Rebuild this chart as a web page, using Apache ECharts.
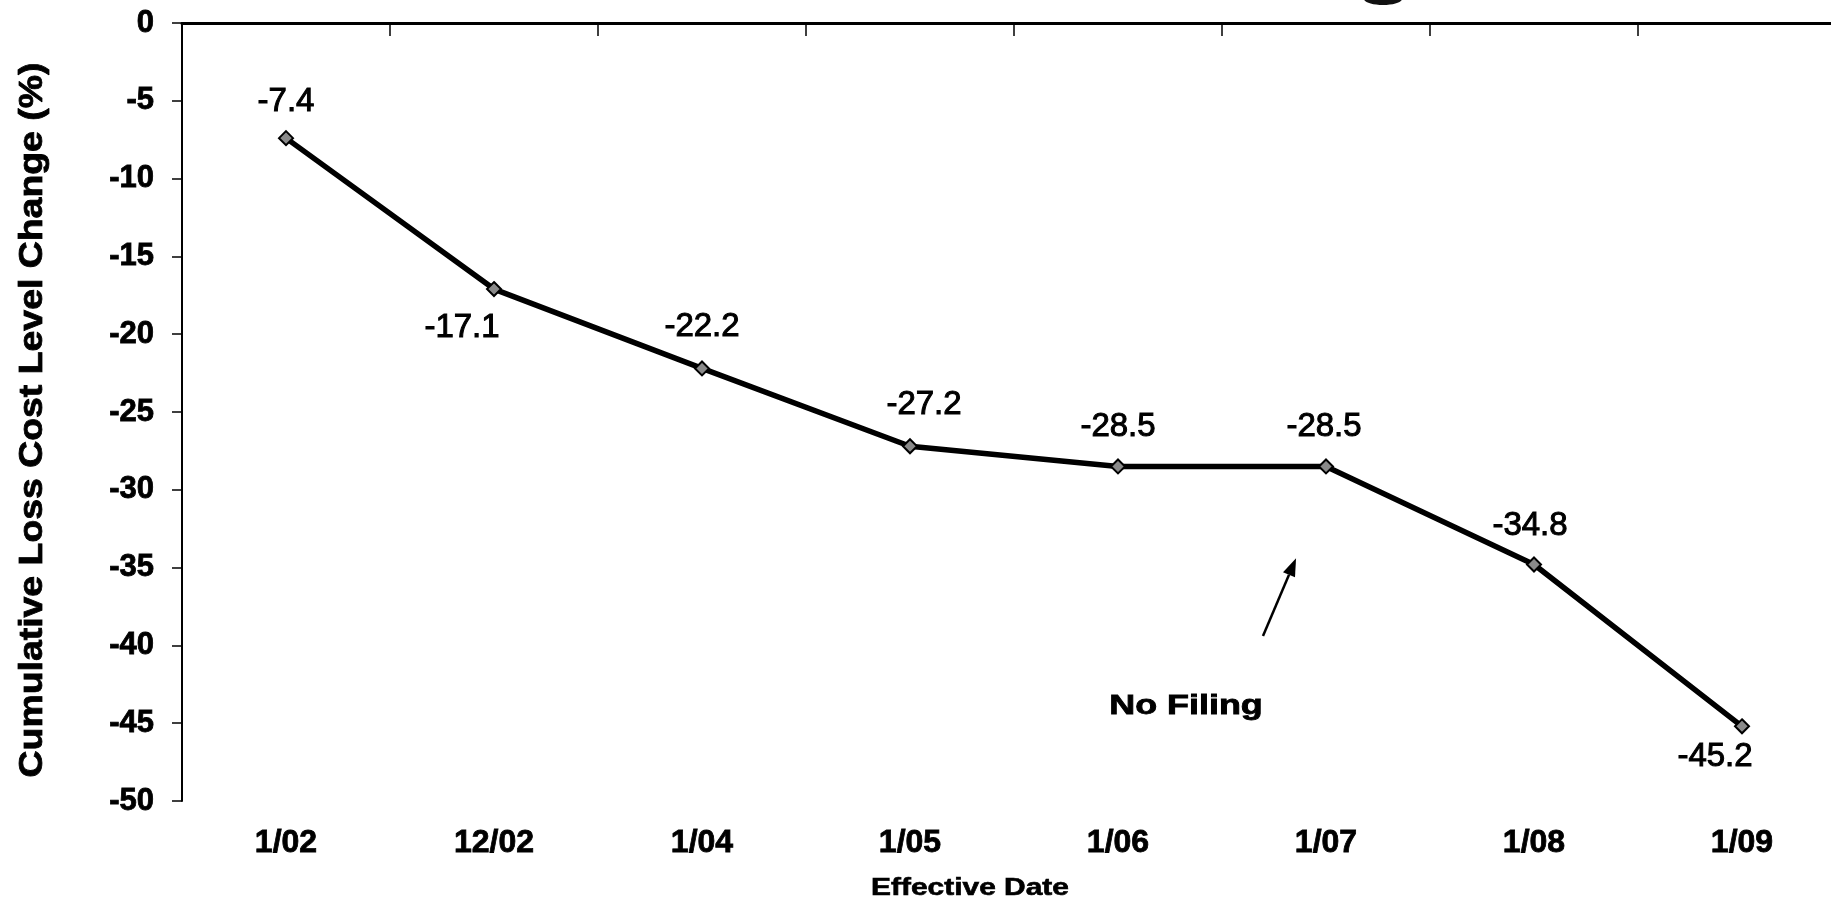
<!DOCTYPE html>
<html>
<head>
<meta charset="utf-8">
<title>Cumulative Loss Cost Level Change</title>
<script src="https://cdn.jsdelivr.net/npm/echarts@6/dist/echarts.min.js"></script>
<style>
  html, body { margin: 0; padding: 0; background: #fff; overflow: hidden; width: 1831px; height: 901px; }
  /* the plot runs slightly past the right edge of the page, so the canvas is wider than the view */
  #chart { width: 1860px; height: 901px; }
</style>
</head>
<body>
<div id="chart"></div>
<script>
// Effective dates of the loss cost filings
const categories = ['1/02', '12/02', '1/04', '1/05', '1/06', '1/07', '1/08', '1/09'];
// Cumulative loss cost level change, percent
const values = [-7.4, -17.1, -22.2, -27.2, -28.5, -28.5, -34.8, -45.2];
// Value axis range and step
const yMin = -50;
const yMax = 0;
const yStep = 5;

const FONT = '"Liberation Sans", Arial, sans-serif';

// Where each value label sits relative to its point (centre offset in px)
const labelOffsets = [[0, -36], [-32, 39], [0, -42], [14, -41], [0, -40], [-2, -40], [-4, -39], [-27, 31]];

const chart = echarts.init(document.getElementById('chart'), null, { renderer: 'canvas' });

const seriesData = values.map((v, i) => ({
  value: v,
  label: { offset: labelOffsets[i] }
}));

chart.setOption({
  animation: false,
  backgroundColor: '#fff',
  grid: { left: 182, top: 23, width: 1664, height: 778, containLabel: false },
  xAxis: [
    {
      type: 'category',
      data: categories,
      position: 'top',
      boundaryGap: true,
      axisLine: { onZero: false, lineStyle: { color: '#000', width: 3 } },
      axisTick: { show: true, inside: true, length: 13, lineStyle: { color: '#000', width: 1.5 } },
      axisLabel: { show: false },
      splitLine: { show: false },
      z: 3
    },
    {
      type: 'category',
      data: categories,
      position: 'bottom',
      boundaryGap: true,
      axisLine: { show: false, onZero: false },
      axisTick: { show: false },
      axisLabel: {
        color: '#000', fontFamily: FONT, fontSize: 32, fontWeight: 'bold',
        margin: 26, lineHeight: 32, textBorderColor: '#000', textBorderWidth: 0.8
      },
      splitLine: { show: false }
    }
  ],
  yAxis: {
    type: 'value',
    min: yMin,
    max: yMax,
    interval: yStep,
    axisLine: { show: true, onZero: false, lineStyle: { color: '#000', width: 2 } },
    axisTick: { show: true, length: 10, lineStyle: { color: '#000', width: 1.5 } },
    axisLabel: {
      color: '#000', fontFamily: FONT, fontSize: 31, fontWeight: 'bold', margin: 28,
      textBorderColor: '#000', textBorderWidth: 0.8
    },
    splitLine: { show: false }
  },
  series: [{
    type: 'line',
    xAxisIndex: 0,
    yAxisIndex: 0,
    data: seriesData,
    symbol: 'diamond',
    symbolSize: 14,
    showAllSymbol: true,
    lineStyle: { color: '#000', width: 5.5 },
    itemStyle: { color: '#8a8a8a', borderColor: '#000', borderWidth: 2 },
    label: {
      show: true,
      position: 'inside',
      align: 'center',
      verticalAlign: 'middle',
      color: '#000',
      fontFamily: FONT,
      fontSize: 33,
      fontWeight: 'normal',
      textBorderColor: '#000',
      textBorderWidth: 1,
      formatter: p => p.value.toFixed(1)
    },
    z: 4
  }]
});

// Pixel position of a fractional category position at a given value
function toPixel(pos, v) {
  const i = Math.min(Math.floor(pos), categories.length - 2);
  const f = pos - i;
  const a = chart.convertToPixel({ xAxisIndex: 0, yAxisIndex: 0 }, [i, v]);
  const b = chart.convertToPixel({ xAxisIndex: 0, yAxisIndex: 0 }, [i + 1, v]);
  return [a[0] + (b[0] - a[0]) * f, a[1]];
}

// "No Filing" annotation: arrow pointing at the flat 1/06–1/07 stretch
const tip = toPixel(4.856, -34.4);
const tail = toPixel(4.697, -39.4);
const ang = Math.atan2(tip[1] - tail[1], tip[0] - tail[0]);
const headLen = 18, headHalf = 6.5;
const base = [tip[0] - headLen * Math.cos(ang), tip[1] - headLen * Math.sin(ang)];
const headPts = [
  tip,
  [base[0] + headHalf * Math.sin(ang), base[1] - headHalf * Math.cos(ang)],
  [base[0] - headHalf * Math.sin(ang), base[1] + headHalf * Math.cos(ang)]
];
const notePos = toPixel(4.327, -43.9);

chart.setOption({
  graphic: [
    {
      type: 'line',
      shape: { x1: tail[0], y1: tail[1], x2: base[0], y2: base[1] },
      style: { stroke: '#000', lineWidth: 2.5 }
    },
    {
      type: 'polygon',
      shape: { points: headPts },
      style: { fill: '#000' }
    },
    {
      type: 'text',
      x: notePos[0], y: notePos[1],
      scaleX: 1.33,
      style: {
        text: 'No Filing', fill: '#000', fontFamily: FONT, fontSize: 27, fontWeight: 'bold',
        align: 'center', verticalAlign: 'middle', stroke: '#000', lineWidth: 0.8
      }
    },
    {
      type: 'text',
      x: 970, y: 889,
      scaleX: 1.3,
      style: {
        text: 'Effective Date', fill: '#000', fontFamily: FONT, fontSize: 23, fontWeight: 'bold',
        align: 'center', verticalAlign: 'middle', stroke: '#000', lineWidth: 0.6
      }
    },
    {
      type: 'text',
      x: 33, y: 420,
      rotation: Math.PI / 2,
      scaleX: 1.1,
      style: {
        text: 'Cumulative Loss Cost Level Change (%)', fill: '#000', fontFamily: FONT,
        fontSize: 34, fontWeight: 'bold', align: 'center', verticalAlign: 'middle',
        stroke: '#000', lineWidth: 0.8
      }
    },
    {
      type: 'ellipse',
      shape: { cx: 1383, cy: -1, rx: 19, ry: 6 },
      style: { fill: '#111' }
    }
  ]
});
</script>
</body>
</html>
